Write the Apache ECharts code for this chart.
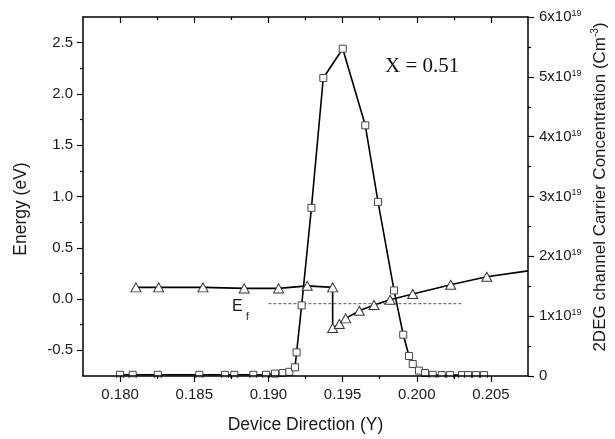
<!DOCTYPE html>
<html>
<head>
<meta charset="utf-8">
<script src="https://cdn.jsdelivr.net/npm/echarts@6/dist/echarts.min.js"></script>
<style>html,body{margin:0;padding:0;background:#fff}#c{width:615px;height:439px}</style>
</head>
<body>
<div id="c"></div>
<script>
// ---- data ----
var xMajorTicks = [0.180, 0.185, 0.190, 0.195, 0.200, 0.205];
var xMinorTicks = [0.1825, 0.1875, 0.1925, 0.1975, 0.2025];
var yMajorTicks = [-0.5, 0.0, 0.5, 1.0, 1.5, 2.0, 2.5];
var yMinorTicks = [-0.25, 0.25, 0.75, 1.25, 1.75, 2.25];
var concX = [0.18000,0.18085,0.18254,0.18534,0.18707,0.18770,0.18898,0.18984,0.19044,0.19096,0.19141,0.19179,0.19190,0.19224,0.19290,0.19370,0.19501,0.19653,0.19739,0.19847,0.19909,0.19948,0.19973,0.20015,0.20056,0.20107,0.20168,0.20225,0.20305,0.20346,0.20400,0.20454];
var concY = [0.02,0.02,0.02,0.02,0.02,0.02,0.02,0.02,0.04,0.05,0.07,0.145,0.395,1.18,2.81,4.98,5.47,4.19,2.91,1.43,0.69,0.335,0.20,0.09,0.05,0.02,0.015,0.015,0.015,0.015,0.015,0.015]; // x1e19 cm^-3
var energyX = [0.18107,0.18260,0.18559,0.18837,0.19069,0.19262,0.19433,0.19433,0.19478,0.19521,0.19613,0.19712,0.19820,0.19973,0.20229,0.20472];
var energyY = [0.114,0.114,0.114,0.104,0.104,0.129,0.114,-0.282,-0.243,-0.188,-0.114,-0.058,-0.007,0.049,0.139,0.217];
var energyEnd = [0.2075, 0.275];
var efX = [0.1900, 0.2030];
var efY = [-0.045, -0.045];

var FONT = '"Liberation Sans", Arial, sans-serif';
var concData = concX.map(function (x, i) { return [x, concY[i] * 1e19]; });
var energyData = energyX.map(function (x, i) { return [x, energyY[i]]; });
energyData.push({ value: energyEnd, symbol: 'none' });
var efData = efX.map(function (x, i) { return [x, efY[i]]; });

var chart = echarts.init(document.getElementById('c'), null, { renderer: 'canvas' });
var axisLine = { show: true, onZero: false, lineStyle: { color: '#000', width: 1.5 } };
var noLine = { show: false, onZero: false };
var tickStyle = { color: '#000', width: 1.2 };
var xBase = { type: 'value', min: 0.1775, max: 0.2075, splitLine: { show: false }, gridIndex: 0, z: 5 };
var option = {
  animation: false,
  backgroundColor: '#fff',
  grid: { left: 83, top: 17, width: 445, height: 360 },
  xAxis: [
    Object.assign({}, xBase, {
      position: 'bottom', axisLine: axisLine,
      axisTick: { show: true, inside: false, length: 6, lineStyle: tickStyle, customValues: xMajorTicks },
      axisLabel: { show: true, customValues: xMajorTicks, margin: 11, fontFamily: FONT, fontSize: 15, color: '#1a1a1a',
        formatter: function (v) { return v.toFixed(3); } },
      name: 'Device Direction (Y)', nameLocation: 'middle', nameGap: 40,
      nameTextStyle: { fontFamily: FONT, fontSize: 17.5, color: '#1a1a1a' }
    }),
    Object.assign({}, xBase, {
      position: 'bottom', axisLine: noLine,
      axisTick: { show: true, inside: false, length: 3, lineStyle: tickStyle, customValues: xMinorTicks },
      axisLabel: { show: false }
    }),
    Object.assign({}, xBase, {
      position: 'top', axisLine: axisLine,
      axisTick: { show: true, inside: true, length: 6, lineStyle: tickStyle, customValues: xMajorTicks },
      axisLabel: { show: false }
    }),
    Object.assign({}, xBase, {
      position: 'top', axisLine: noLine,
      axisTick: { show: true, inside: true, length: 3, lineStyle: tickStyle, customValues: xMinorTicks },
      axisLabel: { show: false }
    })
  ],
  yAxis: [
    {
      type: 'value', position: 'left', min: -0.75, max: 2.75, splitLine: { show: false }, axisLine: axisLine, z: 5,
      axisTick: { show: true, inside: false, length: 6, lineStyle: tickStyle, customValues: yMajorTicks },
      axisLabel: { show: true, customValues: yMajorTicks, margin: 10, fontFamily: FONT, fontSize: 15, color: '#1a1a1a',
        formatter: function (v) { return v.toFixed(1); } }
    },
    {
      type: 'value', position: 'left', min: -0.75, max: 2.75, splitLine: { show: false }, axisLine: noLine, z: 5,
      axisTick: { show: true, inside: false, length: 3, lineStyle: tickStyle, customValues: yMinorTicks },
      axisLabel: { show: false }
    },
    {
      type: 'value', position: 'right', min: 0, max: 6e19, interval: 1e19, splitLine: { show: false }, axisLine: axisLine, z: 5,
      axisTick: { show: true, inside: false, length: 6, lineStyle: tickStyle },
      minorTick: { show: true, splitNumber: 2, length: 3, lineStyle: tickStyle },
      minorSplitLine: { show: false },
      axisLabel: {
        show: true, margin: 11, fontFamily: FONT, color: '#1a1a1a',
        formatter: function (v) {
          var n = Math.round(v / 1e19);
          return n === 0 ? '{a|0}' : '{a|' + n + 'x10}{b|19}';
        },
        rich: {
          a: { fontFamily: FONT, fontSize: 15, color: '#1a1a1a', lineHeight: 16 },
          b: { fontFamily: FONT, fontSize: 9, color: '#1a1a1a', verticalAlign: 'top', lineHeight: 9 }
        }
      }
    }
  ],
  graphic: [
    { type: 'rect', z: 3, silent: true, shape: { x: 84, y: 378, width: 443, height: 6 }, style: { fill: '#fff' } },
    { type: 'text', x: 21, y: 209, rotation: Math.PI / 2, silent: true,
      style: { text: 'Energy (eV)', fontFamily: FONT, fontSize: 17.5, fill: '#1a1a1a', align: 'center', verticalAlign: 'middle' } },
    { type: 'text', x: 600, y: 187, rotation: Math.PI / 2, silent: true,
      style: { text: '{a|2DEG channel Carrier Concentration (Cm}{b|-3}{a|)}', align: 'center', verticalAlign: 'middle',
        rich: {
          a: { fontFamily: FONT, fontSize: 17, fill: '#1a1a1a', lineHeight: 20 },
          b: { fontFamily: FONT, fontSize: 10, fill: '#1a1a1a', verticalAlign: 'top', lineHeight: 10 }
        } } },
    { type: 'text', x: 385, y: 77, silent: true,
      style: { text: 'X = 0.51', fontFamily: '"Liberation Serif", "Times New Roman", serif', fontSize: 21, fill: '#111', align: 'left', verticalAlign: 'bottom' } },
    { type: 'text', x: 232, y: 315, silent: true,
      style: { text: 'E', fontFamily: FONT, fontSize: 16, fill: '#1a1a1a', align: 'left', verticalAlign: 'bottom' } },
    { type: 'text', x: 246, y: 322, silent: true,
      style: { text: 'f', fontFamily: FONT, fontSize: 10, fill: '#1a1a1a', align: 'left', verticalAlign: 'bottom' } }
  ],
  series: [
    {
      type: 'line', xAxisIndex: 0, yAxisIndex: 0, data: efData, symbol: 'none', z: 1,
      lineStyle: { color: '#555', width: 1, type: [3, 2] }
    },
    {
      type: 'line', xAxisIndex: 0, yAxisIndex: 2, data: concData, symbol: 'rect', symbolSize: 7, z: 2,
      lineStyle: { color: '#000', width: 1.6 },
      itemStyle: { color: '#fff', borderColor: '#444', borderWidth: 1 }
    },
    {
      type: 'line', xAxisIndex: 0, yAxisIndex: 0, data: energyData, symbol: 'triangle', symbolSize: [10, 9], z: 2,
      lineStyle: { color: '#000', width: 1.6 },
      itemStyle: { color: '#fff', borderColor: '#333', borderWidth: 1 }
    }
  ]
};
chart.setOption(option);
</script>
</body>
</html>
